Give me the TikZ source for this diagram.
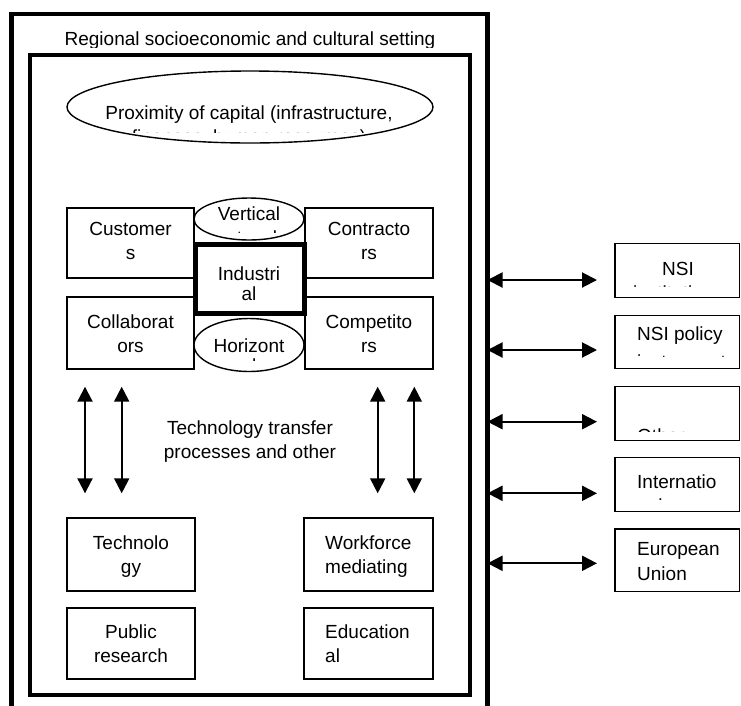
\documentclass[tikz,border=0pt]{standalone}
\usepackage{fontspec}
\setmainfont{Liberation Sans}
\usetikzlibrary{shapes.geometric, arrows.meta}

\begin{document}
\begin{tikzpicture}[x=1pt, y=-1pt,
    box/.style 2 args={draw, line width=1.4pt, fill=white, inner sep=0pt, outer sep=0pt, minimum width=#1pt, minimum height=#2pt},
    oval/.style 2 args={box={#1}{#2}, ellipse},
    txt/.style={font=\fontsize{19}{24}\selectfont, inner sep=0pt, anchor=base, align=center},
    txtl/.style={txt, anchor=base west, align=left},
    twoway/.style={{Triangle[length=15pt,width=15pt]}-{Triangle[length=15pt,width=15pt]}, line width=2pt}]

    % Page area
    \useasboundingbox (0,0) rectangle (741,705);
    \clip (0,0) rectangle (741,705);
    \fill[white] (0,0) rectangle (741,705);

    % Regional frame (runs past the bottom edge) and inner frame
    \node[draw, line width=4.7pt, inner sep=0pt, outer sep=0pt, minimum width=475.8pt, minimum height=720pt, anchor=north west] (setting) at (11.7,14) {};
    \node[draw, line width=3.3pt, inner sep=0pt, outer sep=0pt, minimum width=440pt, minimum height=640pt] (cluster) at (250,375) {};
    \begin{scope}
        \clip (30,20) rectangle (470,47);
        \node[txt] (settingtxt) at (250,45.5) {Regional socioeconomic and cultural setting};
    \end{scope}

    % Capital (text nodes sit on the baseline of their last line)
    \node[oval={366}{72}] (capital) at (250,107) {};
    \begin{scope}
        \clip (60,80) rectangle (440,132);
        \node[txt] (capitaltxt) at (249,143.5) {Proximity of capital (infrastructure,\\finances, human resources)};
    \end{scope}

    % Firms around the industrial core
    \node[box={127}{70}] (cust) at (130.5,243) {};
    \node[txt] (custtxt) at (130.5,259) {Customer\\s};
    \node[box={128}{70}] (contr) at (369,243) {};
    \node[txt] (contrtxt) at (369,259) {Contracto\\rs};
    \node[box={127}{72}] (collab) at (130.5,333) {};
    \node[txt] (collabtxt) at (130.5,352) {Collaborat\\ors};
    \node[box={128}{72}] (compet) at (369,333) {};
    \node[txt] (competxt) at (369,352) {Competito\\rs};

    \node[oval={110}{42}] (vert) at (249,219) {};
    \begin{scope}
        \clip (195,199) rectangle (303,232.5);
        \node[txt] (verttxt) at (249,244.5) {Vertical\\network};
    \end{scope}
    \node[oval={110}{53}] (horiz) at (249,345) {};
    \begin{scope}
        \clip (195,319) rectangle (303,360.5);
        \node[txt, font=\fontsize{19}{20}\selectfont] (horiztxt) at (249,372.3) {Horizont\\al};
    \end{scope}
    \node[box={109}{69}, line width=4.5pt] (core) at (250,279) {};
    \node[txt, font=\fontsize{19}{20}\selectfont] (coretxt) at (249,300) {Industri\\al};

    % Transfer between firms and support bodies
    \node[txt] (transfer) at (250,458) {Technology transfer\\processes and other};
    \foreach \x [count=\i] in {85,121.7,377.7,414.3} {
        \coordinate (up\i) at (\x,386.7);
        \coordinate (dn\i) at (\x,493.3);
        \draw[twoway] (up\i) -- (dn\i);
    }

    % Support bodies
    \node[box={128}{73}] (tech) at (131,554.5) {};
    \node[txt] (techtxt) at (131,573) {Technolo\\gy};
    \node[box={128}{71}] (public) at (131,643.5) {};
    \node[txt] (publictxt) at (131,662) {Public\\research};
    \node[box={129}{73}] (work) at (368.5,554.5) {};
    \node[txtl] (worktxt) at (325,573) {Workforce\\mediating};
    \node[box={129}{71}] (educ) at (368.5,643.5) {};
    \node[txtl] (eductxt) at (325,662) {Education\\al};

    % Outside actors
    \node[box={124.5}{54}] (nsi) at (677.25,270.2) {};
    \begin{scope}
        \clip (616,244) rectangle (739,286);
        \node[txt] (nsitxt) at (678,299) {NSI\\institutions};
    \end{scope}
    \node[box={124.5}{53}] (policy) at (677.25,341.7) {};
    \begin{scope}
        \clip (616,316) rectangle (739,356);
        \node[txtl, font=\fontsize{19}{28}\selectfont] (policytxt) at (637,368) {NSI policy\\instruments};
    \end{scope}
    \node[box={124.5}{54}] (other) at (677.25,413.6) {};
    \begin{scope}
        \clip (616,388) rectangle (739,431);
        \node[txtl] (othertxt) at (637,442) {Other};
    \end{scope}
    \node[box={124.5}{54}] (intl) at (677.25,484.7) {};
    \begin{scope}
        \clip (616,459) rectangle (739,499.5);
        \node[txtl] (intltxt) at (637,512.3) {Internatio\\nal};
    \end{scope}
    \node[box={124.5}{62.7}] (eu) at (677.25,560.3) {};
    \node[txtl, font=\fontsize{19}{25}\selectfont] (eutxt) at (637,580) {European\\Union};

    \foreach \y [count=\i] in {280,350,421.7,493.3,563.3} {
        \coordinate (out\i) at (597,\y);
        \draw[twoway] (setting.east |- out\i) -- (out\i);
    }
\end{tikzpicture}
\end{document}
